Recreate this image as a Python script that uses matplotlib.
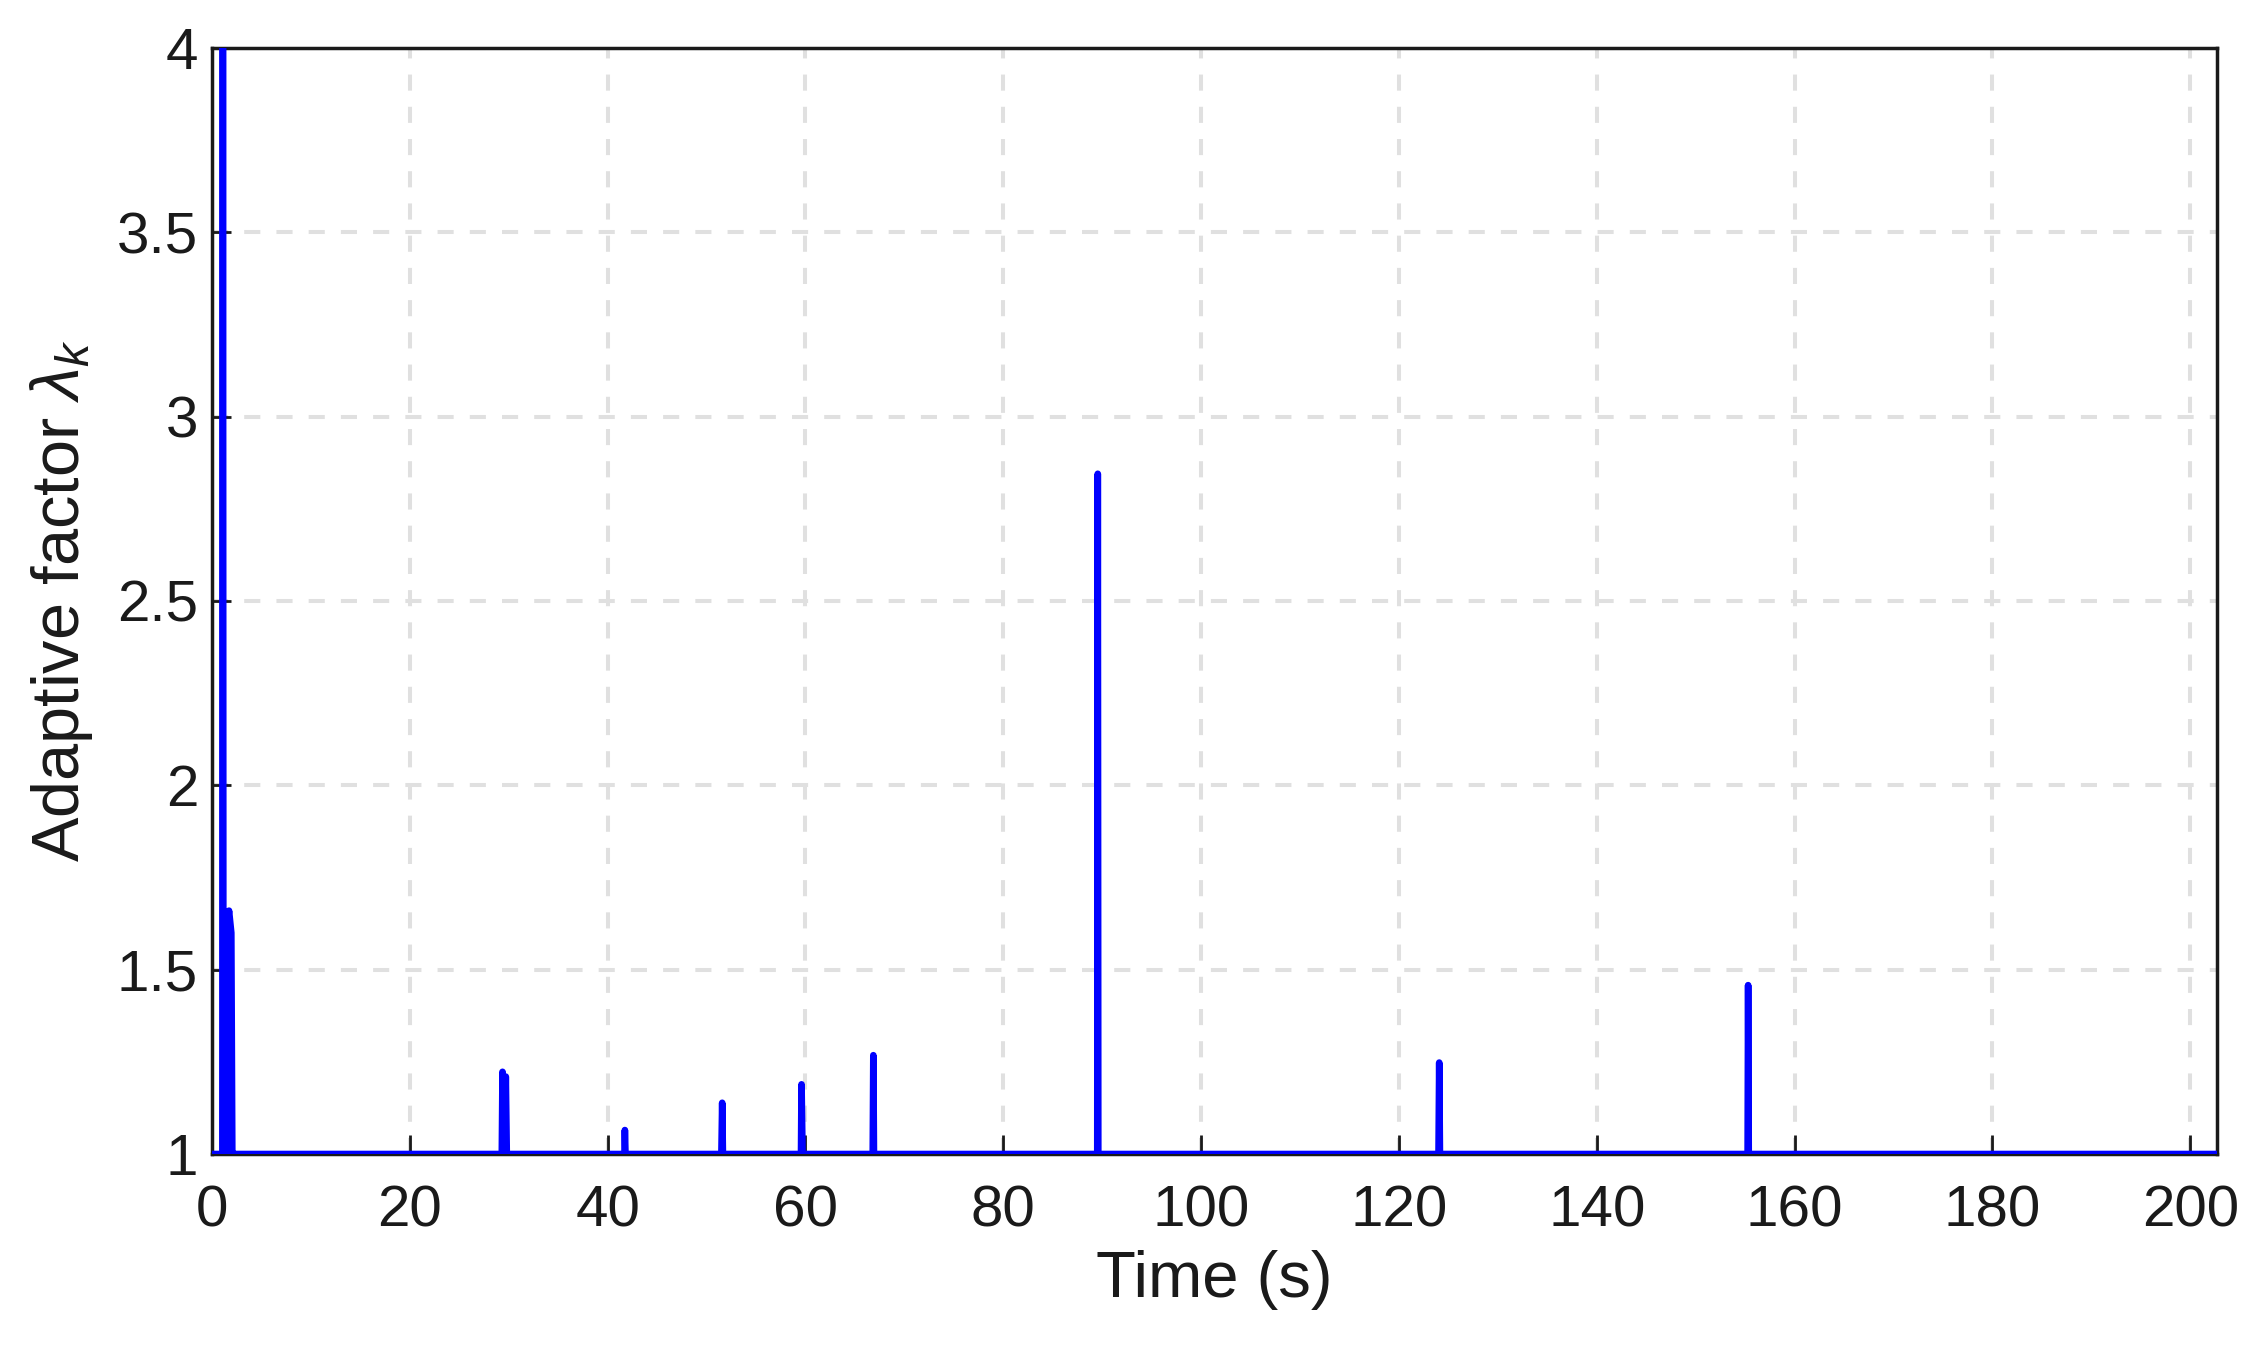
import numpy as np
import matplotlib
matplotlib.use("Agg")
import matplotlib.pyplot as plt

plt.rcParams['font.family'] = ['Liberation Sans', 'DejaVu Sans']
plt.rcParams['mathtext.fontset'] = 'custom'
plt.rcParams['mathtext.rm'] = 'Liberation Sans'
plt.rcParams['mathtext.it'] = 'Liberation Sans:italic'

# adaptive factor, 1 everywhere except short spikes
time = [0.0, 1.05, 1.1, 1.15, 1.45, 1.5, 1.72, 1.95, 2.05, 2.1,
        29.3, 29.37, 29.6, 29.7, 29.8,
        41.7, 41.74, 41.8,
        51.5, 51.58, 51.65,
        59.55, 59.6, 59.7,
        66.8, 66.86, 66.92,
        89.5, 89.55, 89.6,
        124.0, 124.07, 124.14,
        155.25, 155.3, 155.36,
        202.7]
lam = [1.0, 1.0, 4.6, 1.0, 1.0, 1.6, 1.66, 1.6, 1.0, 1.0,
       1.0, 1.223, 1.0, 1.21, 1.0,
       1.0, 1.065, 1.0,
       1.0, 1.139, 1.0,
       1.0, 1.189, 1.0,
       1.0, 1.268, 1.0,
       1.0, 2.845, 1.0,
       1.0, 1.248, 1.0,
       1.0, 1.458, 1.0,
       1.0]

xticks = np.arange(0, 201, 20)
yticks = [1, 1.5, 2, 2.5, 3, 3.5, 4]
yticklabels = ['1', '1.5', '2', '2.5', '3', '3.5', '4']

fig = plt.figure(figsize=(22.65, 13.58), dpi=100)
ax = fig.add_axes([0.0936, 0.1502, 0.8852, 0.8145])

ax.plot(time, lam, color='#0000ff', lw=4.8, solid_capstyle='round', zorder=3)

ax.set_xlim(0, 202.7)
ax.set_ylim(1, 4)
ax.set_xticks(xticks)
ax.set_yticks(yticks)
ax.set_yticklabels(yticklabels)

ax.grid(True, color='#e0e0e0', linestyle=(0, (4, 4)), lw=2.9)
ax.set_axisbelow(True)
ax.tick_params(direction='in', length=14, width=2, labelsize=42, colors='#1a1a1a')
ax.tick_params(axis='x', pad=22)
ax.tick_params(axis='y', pad=10)
for s in ax.spines.values():
    s.set_linewidth(2.5)
    s.set_color('#1a1a1a')

ax.set_xlabel('Time (s)', fontsize=47, color='#1a1a1a', labelpad=8)
ax.set_ylabel('Adaptive factor $\\lambda_{k}$', fontsize=48, color='#1a1a1a', labelpad=16)

fig.savefig('out.png', dpi=100, facecolor='white')
